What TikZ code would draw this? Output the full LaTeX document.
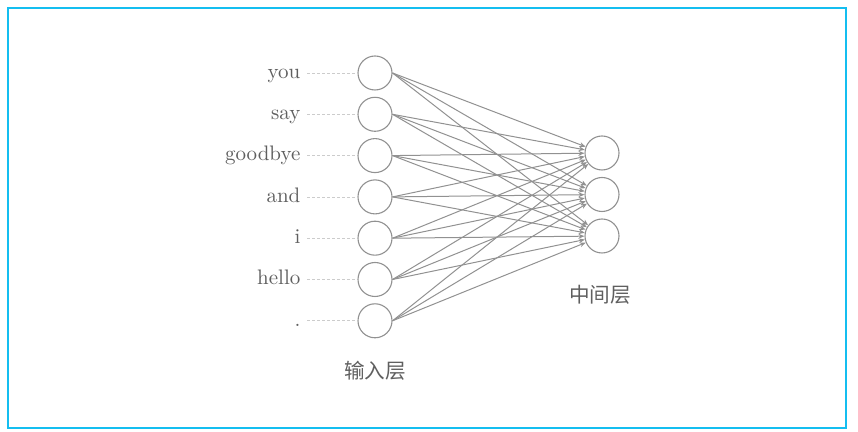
\documentclass[tikz,border=0pt]{standalone}
\usepackage{fontspec}
\newfontfamily\cjk{Noto Sans CJK SC}
\usepackage{xcolor}
\usetikzlibrary{arrows.meta,positioning}
\definecolor{framecyan}{RGB}{20,190,240}
\definecolor{textgray}{RGB}{95,95,95}
\definecolor{edgegray}{RGB}{145,145,145}
\tikzset{
  inputnode/.style={circle,draw=edgegray,line width=0.55pt,minimum size=17pt,inner sep=0pt},
  hiddennode/.style={circle,draw=edgegray,line width=0.55pt,minimum size=17pt,inner sep=0pt},
  wordlabel/.style={text=textgray,font=\fontsize{10.5}{12}\selectfont,text height=1.5ex,text depth=0.25ex,anchor=east},
  layerlabel/.style={text=textgray,font=\cjk\fontsize{10.3}{12}\selectfont},
  dashline/.style={draw=black!20,dash pattern=on 1.5pt off 1pt,line width=0.35pt},
  netarrow/.style={-{Stealth[length=3pt,width=2.4pt]},draw=edgegray,line width=0.5pt}
}

\begin{document}
\begin{tikzpicture}[x=0.5pt,y=-0.5pt]
  \useasboundingbox (0,0) rectangle (858,432);
  \draw[framecyan,line width=0.8pt] (8,8) rectangle (846,428);
  % input layer
  \foreach \w [count=\i] in {you,say,goodbye,and,i,hello,.} {
    \node[inputnode] (in\i) at (375,{73+41.3*(\i-1)}) {};
    \node[wordlabel,left=25pt of in\i.west] (w\i) {\w};
    \draw[dashline] (w\i.east) -- (in\i.west);
  }
  % hidden layer
  \foreach \j in {1,2,3}
    \node[hiddennode] (h\j) at (602,{153+41.5*(\j-1)}) {};
  \foreach \i in {1,...,7}
    \foreach \j in {1,2,3}
      \draw[netarrow] (in\i.east) -- (h\j);
  \node[layerlabel,below=8pt of in7] (inlabel) {输入层};
  \node[layerlabel] (hidlabel) at (600,295) {中间层};
\end{tikzpicture}
\end{document}
